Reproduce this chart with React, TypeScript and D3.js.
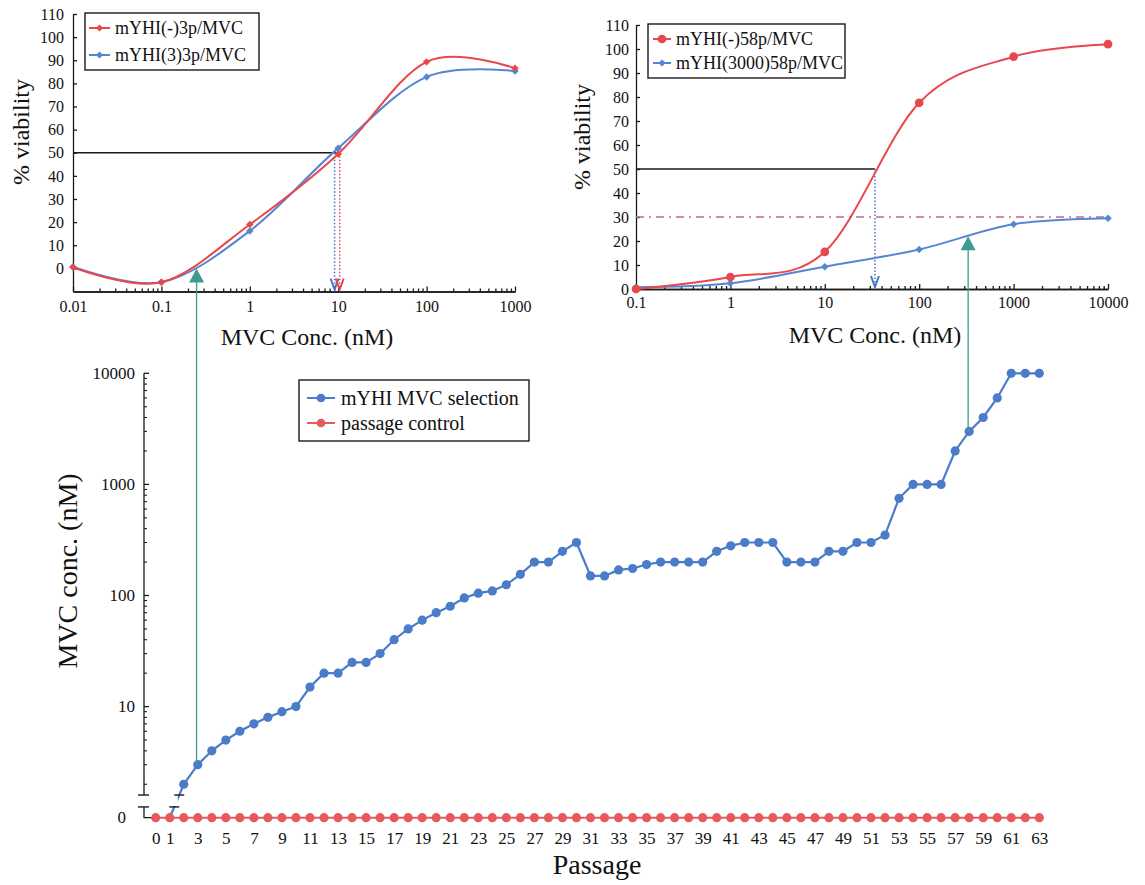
import React, { useEffect, useRef } from 'react';
import * as d3 from 'd3';

const FONT = '"Liberation Serif", "Times New Roman", Times, serif';
const RED = '#e8474c';
const BLUE = '#5686d2';
const TEAL = '#3d9b8f';
const DASHDOT = '#b86a9e';

// top left panel: 3rd passage
const leftConc = [0.01, 0.1, 1, 10, 100, 1000];
const leftRed = [0.5, -6, 19, 49.5, 89.3, 86.5];
const leftBlue = [0.7, -6, 16.2, 52, 82.8, 85.3];
const leftIc50Blue = 9.1;
const leftIc50Red = 10.4;
const leftArrow = { conc: 0.25, viability: 0, passage: 3 };
const leftLegend = ['mYHI(-)3p/MVC', 'mYHI(3)3p/MVC'];

// top right panel: 58th passage
const rightConc = [0.1, 1, 10, 100, 1000, 10000];
const rightRed = [0, 5, 15.5, 77.6, 96.8, 102];
const rightBlue = [0.7, 2.4, 9.3, 16.5, 27, 29.5];
const rightIc50 = 34;
const rightPlateau = 30;
const rightArrow = { conc: 330, viability: 22, passage: 58 };
const rightLegend = ['mYHI(-)58p/MVC', 'mYHI(3000)58p/MVC'];

const viabilityTicks = [0, 10, 20, 30, 40, 50, 60, 70, 80, 90, 100, 110];

// bottom panel: selection over passages
const passages = [0, 1, 2, 3, 4, 5, 6, 7, 8, 9, 10, 11, 12, 13, 14, 15, 16, 17, 18, 19, 20,
  21, 22, 23, 24, 25, 26, 27, 28, 29, 30, 31, 32, 33, 34, 35, 36, 37, 38, 39, 40, 41, 42,
  43, 44, 45, 46, 47, 48, 49, 50, 51, 52, 53, 54, 55, 56, 57, 58, 59, 60, 61, 62, 63];
const controlValues = [0, 0, 0, 0, 0, 0, 0, 0, 0, 0, 0, 0, 0, 0, 0, 0, 0, 0, 0, 0, 0,
  0, 0, 0, 0, 0, 0, 0, 0, 0, 0, 0, 0, 0, 0, 0, 0, 0, 0, 0, 0, 0, 0,
  0, 0, 0, 0, 0, 0, 0, 0, 0, 0, 0, 0, 0, 0, 0, 0, 0, 0, 0, 0, 0];
// passages 1..63
const selectionValues = [0, 2, 3, 4, 5, 6, 7, 8, 9, 10, 15, 20, 20, 25, 25, 30, 40, 50, 60, 70,
  80, 95, 105, 110, 125, 155, 200, 200, 250, 300, 150, 150, 170, 175, 190, 200, 200, 200, 200,
  250, 280, 300, 300, 300, 200, 200, 200, 250, 250, 300, 300, 350, 750, 1000, 1000, 1000,
  2000, 3000, 4000, 6000, 10000, 10000, 10000];
const passageTicks = [0, 1, 3, 5, 7, 9, 11, 13, 15, 17, 19, 21, 23, 25, 27, 29, 31, 33, 35,
  37, 39, 41, 43, 45, 47, 49, 51, 53, 55, 57, 59, 61, 63];
const concTicks = [10, 100, 1000, 10000];
const bottomLegend = ['mYHI MVC selection', 'passage control'];

const isDecade = (t: number) => Math.abs(Math.log10(t) - Math.round(Math.log10(t))) < 1e-6;

function styleAxis(g: any, size: number) {
  g.attr('font-family', FONT).attr('font-size', size).style('font-family', FONT);
  g.selectAll('path, line').attr('stroke', '#1a1a1a').attr('stroke-width', 1.3);
  g.selectAll('text').attr('fill', '#111');
}

function drawLegend(svg: any, box: number[], rows: number[], lineX: number[], textX: number,
  labels: string[], colors: string[], markers: string[], fontSize: number) {
  svg.append('rect')
    .attr('x', box[0]).attr('y', box[1]).attr('width', box[2]).attr('height', box[3])
    .attr('fill', '#fff').attr('stroke', '#1a1a1a').attr('stroke-width', 1.4);
  labels.forEach((label, i) => {
    svg.append('line')
      .attr('x1', lineX[0]).attr('x2', lineX[1]).attr('y1', rows[i]).attr('y2', rows[i])
      .attr('stroke', colors[i]).attr('stroke-width', 2);
    svg.append('path')
      .attr('d', d3.symbol(markers[i] === 'circle' ? d3.symbolCircle : d3.symbolSquare,
        markers[i] === 'circle' ? 60 : 26)())
      .attr('transform', 'translate(' + (lineX[0] + lineX[1]) / 2 + ',' + rows[i] + ')' +
        (markers[i] === 'circle' ? '' : ' rotate(45)'))
      .attr('fill', colors[i]);
    svg.append('text')
      .attr('x', textX).attr('y', rows[i] + fontSize * 0.33)
      .attr('font-family', FONT).attr('font-size', fontSize).attr('fill', '#111')
      .text(label);
  });
}

function drawDose(svg: any, cfg: any) {
  const x = d3.scaleLog().domain(cfg.xDomain).range(cfg.xRange);
  const y = d3.scaleLinear().domain(cfg.yDomain).range(cfg.yRange);
  const axisY = cfg.yRange[0];

  // x axis, minor then major ticks (inside)
  const gxMinor = svg.append('g').attr('transform', 'translate(0,' + axisY + ')')
    .call(d3.axisBottom(x).tickValues(x.ticks().filter((t: number) => !isDecade(t)))
      .tickSize(-3).tickSizeOuter(0).tickFormat(() => ''));
  styleAxis(gxMinor, 16);
  const gx = svg.append('g').attr('transform', 'translate(0,' + axisY + ')')
    .call(d3.axisBottom(x).tickValues(cfg.xDomain[0] === 0.01
      ? [0.01, 0.1, 1, 10, 100, 1000] : [0.1, 1, 10, 100, 1000, 10000])
      .tickSize(-5).tickSizeOuter(0).tickPadding(cfg.xPad).tickFormat((d: number) => String(d)));
  styleAxis(gx, 16);

  const gy = svg.append('g').attr('transform', 'translate(' + cfg.xRange[0] + ',0)')
    .call(d3.axisLeft(y).tickValues(viabilityTicks).tickSize(-4).tickSizeOuter(0)
      .tickPadding(cfg.yPad));
  styleAxis(gy, 16);

  // titles
  svg.append('text')
    .attr('transform', 'translate(' + cfg.yTitle[0] + ',' + cfg.yTitle[1] + ') rotate(-90)')
    .attr('dy', '0.35em').attr('text-anchor', 'middle')
    .attr('font-family', FONT).attr('font-size', 24).attr('fill', '#111')
    .text('% viability');
  svg.append('text')
    .attr('x', cfg.xTitle[0]).attr('y', cfg.xTitle[1]).attr('text-anchor', 'middle')
    .attr('font-family', FONT).attr('font-size', 24).attr('fill', '#111')
    .text('MVC Conc. (nM)');

  // reference lines
  const y50 = y(50);
  svg.append('line')
    .attr('x1', cfg.xRange[0]).attr('x2', x(cfg.line50To)).attr('y1', y50).attr('y2', y50)
    .attr('stroke', '#1a1a1a').attr('stroke-width', 1.3);
  if (cfg.plateau != null) {
    svg.append('line')
      .attr('x1', cfg.xRange[0]).attr('x2', cfg.xRange[1])
      .attr('y1', y(cfg.plateau)).attr('y2', y(cfg.plateau))
      .attr('stroke', DASHDOT).attr('stroke-width', 1.6).attr('stroke-dasharray', '8,5,2,5');
  }
  cfg.drops.forEach((dr: any) => {
    const xx = x(dr.conc);
    svg.append('line')
      .attr('x1', xx).attr('x2', xx).attr('y1', y50).attr('y2', axisY - 3)
      .attr('stroke', dr.color).attr('stroke-width', 1.5).attr('stroke-dasharray', '1.5,2');
    svg.append('path')
      .attr('d', 'M' + (xx - 4) + ',' + (axisY - 13) + 'L' + xx + ',' + (axisY - 2) +
        'L' + (xx + 4) + ',' + (axisY - 13))
      .attr('fill', 'none').attr('stroke', dr.color).attr('stroke-width', 2);
  });

  const line = d3.line<number>()
    .x((d, i) => x(cfg.conc[i]))
    .y(d => y(d))
    .curve(d3.curveCardinal.tension(0));

  [cfg.blue, cfg.red].forEach((vals: number[], k: number) => {
    const color = k === 0 ? BLUE : RED;
    const marker = k === 0 ? cfg.blueMarker : cfg.redMarker;
    svg.append('path').attr('d', line(vals)).attr('fill', 'none')
      .attr('stroke', color).attr('stroke-width', 2);
    svg.selectAll(null).data(vals).enter().append('path')
      .attr('d', d3.symbol(marker === 'circle' ? d3.symbolCircle : d3.symbolSquare,
        marker === 'circle' ? 60 : 28)())
      .attr('transform', (d: number, i: number) => 'translate(' + x(cfg.conc[i]) + ',' + y(d) + ')' +
        (marker === 'circle' ? '' : ' rotate(45)'))
      .attr('fill', color);
  });

  drawLegend(svg, cfg.legendBox, cfg.legendRows, cfg.legendLine, cfg.legendText,
    cfg.legend, [RED, BLUE], [cfg.redMarker, cfg.blueMarker], 18);

  return { x, y };
}

export default function App() {
  const ref = useRef<SVGSVGElement>(null);

  useEffect(() => {
    const svg = d3.select(ref.current);
    svg.selectAll('*').remove();

    const left = drawDose(svg, {
      xDomain: [0.01, 1000], xRange: [73, 515], yDomain: [-10, 110], yRange: [291.5, 14],
      conc: leftConc, red: leftRed, blue: leftBlue, redMarker: 'diamond', blueMarker: 'diamond',
      xPad: 9, yPad: 9, yTitle: [21, 132], xTitle: [307, 345], line50To: 9.6,
      drops: [{ conc: leftIc50Blue, color: '#4a74c4' }, { conc: leftIc50Red, color: RED }],
      legend: leftLegend, legendBox: [85, 13, 174, 57], legendRows: [28, 55],
      legendLine: [89, 110], legendText: 115,
    });
    const right = drawDose(svg, {
      xDomain: [0.1, 10000], xRange: [636, 1108], yDomain: [0, 110], yRange: [289, 25],
      conc: rightConc, red: rightRed, blue: rightBlue, redMarker: 'circle', blueMarker: 'diamond',
      xPad: 8, yPad: 7, yTitle: [582, 137], xTitle: [875, 343], line50To: rightIc50,
      plateau: rightPlateau,
      drops: [{ conc: rightIc50, color: '#4a74c4' }],
      legend: rightLegend, legendBox: [648, 24, 197, 54], legendRows: [39, 63],
      legendLine: [653, 671], legendText: 676,
    });

    // bottom panel
    const xB = d3.scaleLinear().domain([0, 63]).range([155.7, 1039.3]);
    const yB = d3.scaleLog().domain([1, 10000]).range([817.7, 373.3]);
    const yv = (v: number) => (v <= 0 ? yB(1) : yB(v));
    const axisX = 144;
    const breakHi = yB(1.6);
    const breakLo = yB(1.25);

    // y axis (upper part) with inside ticks
    svg.append('line').attr('x1', axisX).attr('x2', axisX).attr('y1', breakHi).attr('y2', yB(10000))
      .attr('stroke', '#1a1a1a').attr('stroke-width', 1.3);
    const minors = yB.ticks().filter((t: number) => t >= 2 && !isDecade(t));
    svg.selectAll(null).data(minors).enter().append('line')
      .attr('x1', axisX).attr('x2', axisX + 3).attr('y1', (d: number) => yB(d)).attr('y2', (d: number) => yB(d))
      .attr('stroke', '#1a1a1a').attr('stroke-width', 1.1);
    svg.selectAll(null).data(concTicks).enter().append('line')
      .attr('x1', axisX).attr('x2', axisX + 5).attr('y1', (d: number) => yB(d)).attr('y2', (d: number) => yB(d))
      .attr('stroke', '#1a1a1a').attr('stroke-width', 1.3);
    svg.selectAll(null).data(concTicks).enter().append('text')
      .attr('x', 135).attr('y', (d: number) => yB(d)).attr('dy', '0.34em').attr('text-anchor', 'end')
      .attr('font-family', FONT).attr('font-size', 17).attr('fill', '#111')
      .text((d: number) => String(d));
    svg.append('text').attr('x', 126).attr('y', yB(1)).attr('dy', '0.34em').attr('text-anchor', 'end')
      .attr('font-family', FONT).attr('font-size', 17).attr('fill', '#111').text('0');

    // lower stub + x axis line
    svg.append('path')
      .attr('d', 'M' + axisX + ',' + breakLo + 'V' + yB(1) + 'H' + xB(63))
      .attr('fill', 'none').attr('stroke', '#1a1a1a').attr('stroke-width', 1.3);

    // x tick labels
    const gx = svg.append('g').attr('transform', 'translate(0,' + yB(1) + ')')
      .call(d3.axisBottom(xB).tickValues(passageTicks).tickSize(0).tickPadding(14)
        .tickFormat((d: number) => String(d)));
    gx.select('.domain').remove();
    styleAxis(gx, 17);

    // titles
    svg.append('text')
      .attr('transform', 'translate(67,571) rotate(-90)').attr('dy', '0.35em')
      .attr('text-anchor', 'middle').attr('font-family', FONT).attr('font-size', 28)
      .attr('fill', '#111').text('MVC conc. (nM)');
    svg.append('text')
      .attr('x', 597).attr('y', 874).attr('text-anchor', 'middle')
      .attr('font-family', FONT).attr('font-size', 28).attr('fill', '#111').text('Passage');

    // selection series
    const selPassages = passages.slice(1);
    const lineB = d3.line<number>().x((d, i) => xB(selPassages[i])).y(d => yv(d));
    svg.append('path').attr('d', lineB(selectionValues)).attr('fill', 'none')
      .attr('stroke', '#4a7cc9').attr('stroke-width', 2.2);
    svg.selectAll(null).data(selectionValues.map((v, i) => [selPassages[i], v]).filter(p => p[1] > 0))
      .enter().append('circle')
      .attr('cx', (d: number[]) => xB(d[0])).attr('cy', (d: number[]) => yv(d[1])).attr('r', 4.6)
      .attr('fill', '#4a7cc9');

    // axis break over the axis and the first segment
    const p1 = [xB(selPassages[0]), yv(selectionValues[0])];
    const p2 = [xB(selPassages[1]), yv(selectionValues[1])];
    const atY = (yy: number) => p1[0] + (yy - p1[1]) / (p2[1] - p1[1]) * (p2[0] - p1[0]);
    svg.append('rect').attr('x', axisX - 8).attr('y', breakHi + 1)
      .attr('width', p2[0] - 6 - (axisX - 8)).attr('height', breakLo - breakHi - 2).attr('fill', '#fff');
    [breakHi, breakLo].forEach(yy => {
      svg.append('line').attr('x1', axisX - 6).attr('x2', axisX + 5).attr('y1', yy).attr('y2', yy)
        .attr('stroke', '#1a1a1a').attr('stroke-width', 1.4);
      const xx = atY(yy);
      svg.append('line').attr('x1', xx - 5).attr('x2', xx + 5).attr('y1', yy).attr('y2', yy)
        .attr('stroke', '#1a1a1a').attr('stroke-width', 1.4);
    });

    // passage control series
    const lineC = d3.line<number>().x((d, i) => xB(passages[i])).y(d => yv(d));
    svg.append('path').attr('d', lineC(controlValues)).attr('fill', 'none')
      .attr('stroke', '#e25a5e').attr('stroke-width', 1.8);
    svg.selectAll(null).data(controlValues).enter().append('circle')
      .attr('cx', (d: number, i: number) => xB(passages[i])).attr('cy', (d: number) => yv(d)).attr('r', 4.6)
      .attr('fill', '#e65a5e');

    drawLegend(svg, [299, 380, 230, 61], [398, 423], [307, 335], 341,
      bottomLegend, ['#4a7cc9', '#e65a5e'], ['circle', 'circle'], 20);

    // green arrows linking the panels
    [[left, leftArrow], [right, rightArrow]].forEach(([sc, ar]: any) => {
      const ax = sc.x(ar.conc);
      const ay = sc.y(ar.viability);
      const target = yv(selectionValues[ar.passage - 1]);
      svg.append('line').attr('x1', ax).attr('x2', ax).attr('y1', ay + 12).attr('y2', target)
        .attr('stroke', TEAL).attr('stroke-width', 1.3);
      svg.append('path')
        .attr('d', 'M' + ax + ',' + ay + 'L' + (ax - 7.5) + ',' + (ay + 14) + 'L' + (ax + 7.5) + ',' + (ay + 14) + 'Z')
        .attr('fill', TEAL);
    });
  }, []);

  return (
    <svg ref={ref} width={1145} height={885}
      style={{ position: 'absolute', left: 0, top: 0, background: '#fff' }} />
  );
}
